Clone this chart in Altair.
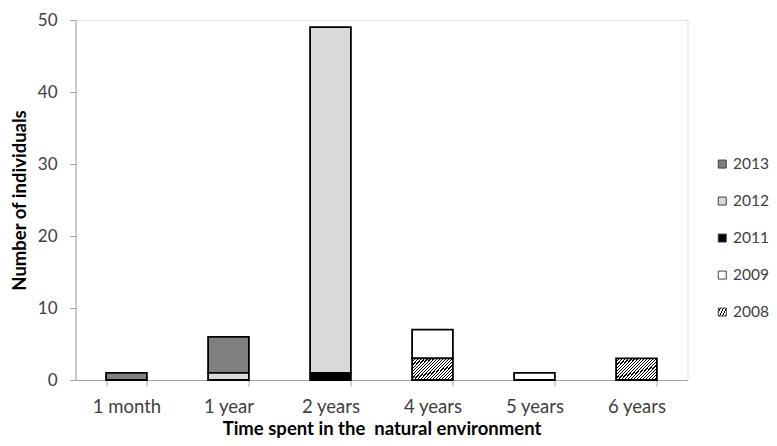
import altair as alt
import pandas as pd

# Data
categories = ["1 month", "1 year", "2 years", "4 years", "5 years", "6 years"]
years = ["2013", "2012", "2011", "2009", "2008"]
v2013 = [1, 5, 0, 0, 0, 0]
v2012 = [0, 1, 48, 0, 0, 0]
v2011 = [0, 0, 1, 0, 0, 0]
v2009 = [0, 0, 0, 4, 1, 0]
v2008 = [0, 0, 0, 3, 0, 3]

series = {"2013": v2013, "2012": v2012, "2011": v2011, "2009": v2009, "2008": v2008}
rows = []
for yr, vals in series.items():
    for cat, v in zip(categories, vals):
        if v > 0:
            rows.append({"time": cat, "year": yr, "n": v, "ord": int(yr)})
df = pd.DataFrame(rows)

# diagonal hatch emulated with a hard-stop linear gradient
periods = 20
duty = 0.38
stops = []
for i in range(periods):
    a = i / periods
    b = (i + duty) / periods
    c = (i + 1) / periods
    stops += [(a, "black"), (b, "black"), (b, "white"), (c, "white")]
stop_txt = ", ".join("{offset: %.4f, color: '%s'}" % (o, col) for o, col in stops)
hatch_expr = "{gradient: 'linear', x1: 0, y1: 0, x2: 1.2, y2: 0.6, stops: [%s]}" % stop_txt

font = "Lato"

chart = alt.Chart(df).mark_bar(stroke="black", strokeWidth=1.8).encode(
    x=alt.X("time:N", sort=categories,
            scale=alt.Scale(paddingInner=0.6, paddingOuter=0.3),
            axis=alt.Axis(title="Time spent in the\u00a0 natural environment", labelAngle=0,
                          tickBand="extent", domainColor="#a6a6a6", tickColor="#a6a6a6",
                          tickSize=6, labelPadding=11.5, labelFontSize=18.5, labelColor="#404040",
                          labelFont=font, titleFont=font, titleFontSize=18.5,
                          titleFontWeight="bold", titleColor="black",
                          titleX=306, titleY=54, titleBaseline="alphabetic",
                          titleAlign="center", titleAnchor="middle",
                          grid=False)),
    y=alt.Y("n:Q", stack="zero",
            scale=alt.Scale(domain=[0, 50], nice=False),
            axis=alt.Axis(title="Number of individuals", values=[0, 10, 20, 30, 40, 50],
                          domainColor="#a6a6a6", tickColor="#a6a6a6", tickSize=6,
                          labelPadding=12.5, labelFontSize=17, labelColor="#404040",
                          labelFont=font, titleFont=font, titleFontSize=18.5,
                          titleFontWeight="bold", titleColor="black",
                          titleX=-50, titleY=180, titleBaseline="alphabetic",
                          titleAlign="center", titleAnchor="middle",
                          grid=False)),
    color=alt.Color("year:N", sort=years,
                    scale=alt.Scale(domain=years,
                                    range=["#808080", "#d9d9d9", "#000000", "#ffffff",
                                           alt.ExprRef(hatch_expr)]),
                    legend=alt.Legend(title=None, orient="none", legendX=639, legendY=136.3,
                                      symbolType="square", symbolSize=64,
                                      symbolStrokeColor="#404040", symbolStrokeWidth=1,
                                      labelFont=font, labelFontSize=15.5, labelColor="#404040",
                                      rowPadding=20, labelOffset=3)),
    order=alt.Order("ord:Q", sort="ascending"),
).properties(
    width=612, height=360,
    autosize=alt.AutoSizeParams(type="none"),
    padding={"left": 67.5, "top": 12, "right": 81.5, "bottom": 58},
).configure_view(stroke=None).configure(background="white")

chart.save("out.html", embed_options={"renderer": "svg", "actions": False})
